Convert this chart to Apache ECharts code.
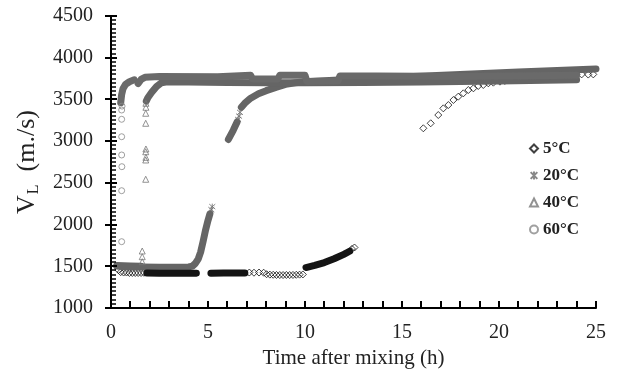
<!DOCTYPE html>
<html>
<head>
<meta charset="utf-8">
<title>Longitudinal velocity after mixing</title>
<script src="https://cdn.jsdelivr.net/npm/echarts@6/dist/echarts.min.js"></script>
<style>
  html, body { margin: 0; padding: 0; background: #fff; }
  #chart { width: 621px; height: 385px; }
</style>
</head>
<body>
<div id="chart"></div>
<script>
// Axis ranges and ticks
const xTicks = [0, 5, 10, 15, 20, 25];
const yTicks = [1000, 1500, 2000, 2500, 3000, 3500, 4000, 4500];
const xMinorStep = 1;
const yMinorStep = 50;
const legendNames = ['5°C', '20°C', '40°C', '60°C'];

// 5 °C: individually visible readings [hours, m/s]
const c5Points = [
  [0.38, 1455], [0.5, 1430], [0.65, 1425], [0.8, 1425], [0.95, 1420], [1.1, 1420],
  [1.25, 1420], [1.4, 1420], [1.55, 1420], [1.7, 1422],
  [7.13, 1425], [7.37, 1423], [7.63, 1425], [7.87, 1423],
  [8.02, 1405], [8.19, 1400], [8.36, 1398], [8.53, 1396], [8.7, 1395], [8.87, 1395],
  [9.04, 1396], [9.21, 1395], [9.38, 1396], [9.55, 1398], [9.72, 1400], [9.89, 1402],
  [12.42, 1708], [12.55, 1725],
  [16.1, 3154], [16.48, 3214], [16.87, 3313], [17.13, 3393], [17.39, 3433], [17.65, 3493],
  [17.9, 3533], [18.16, 3573], [18.42, 3613], [18.68, 3633], [18.93, 3661], [19.19, 3673],
  [19.45, 3693], [19.71, 3701], [20.05, 3713], [20.3, 3722], [20.6, 3730], [20.9, 3738],
  [21.2, 3745], [21.5, 3750], [21.8, 3757], [22.1, 3763], [22.4, 3768], [22.7, 3774],
  [23.0, 3779], [23.3, 3784], [23.6, 3788], [24.0, 3795], [24.26, 3800], [24.6, 3798], [24.86, 3800]
];
// 5 °C: densely sampled stretches
const c5Runs = [
  [[1.85, 1420], [2.5, 1417], [3.3, 1416], [4.0, 1416], [4.4, 1418]],
  [[5.15, 1418], [5.8, 1420], [6.4, 1420], [6.9, 1420]],
  [[10.05, 1485], [10.5, 1510], [11.0, 1545], [11.5, 1590], [12.0, 1643], [12.3, 1680]]
];

// 20 °C
const c20Points = [
  [5.17, 2180], [5.22, 2215], [6.55, 3260], [6.6, 3300], [6.65, 3345]
];
const c20Runs = [
  [[0.3, 1502], [0.8, 1492], [1.5, 1490], [2.5, 1488], [3.5, 1488], [4.0, 1492], [4.2, 1502],
   [4.35, 1535], [4.5, 1590], [4.62, 1670], [4.75, 1800], [4.88, 1940], [5.0, 2050], [5.1, 2130]],
  [[6.05, 3020], [6.3, 3130], [6.5, 3230]],
  [[6.72, 3405], [6.9, 3455], [7.2, 3515], [7.6, 3568], [8.0, 3605], [8.5, 3645], [9.0, 3680],
   [9.5, 3700], [10.0, 3712], [12.0, 3735], [15.0, 3770], [18.0, 3800], [21.0, 3830],
   [23.0, 3847], [25.0, 3866]]
];

// 40 °C
const c40Points = [
  [1.61, 1555], [1.61, 1615], [1.61, 1683],
  [1.79, 2543], [1.79, 2774], [1.8, 2806], [1.79, 2873], [1.8, 2906],
  [1.79, 3214], [1.79, 3334], [1.8, 3406], [1.8, 3454]
];
const c40Runs = [
  [[0.3, 1508], [1.0, 1502], [1.55, 1500]],
  [[1.82, 3480], [1.9, 3520], [2.1, 3585], [2.35, 3655], [2.6, 3700], [2.9, 3712], [4.0, 3708],
   [6.0, 3703], [8.0, 3700], [10.0, 3700], [13.0, 3703], [16.0, 3710], [20.0, 3722], [24.0, 3735]]
];

// 60 °C
const c60Points = [
  [0.55, 1795], [0.55, 2406], [0.56, 2694], [0.55, 2834], [0.55, 3053],
  [0.55, 3262], [0.55, 3373], [0.57, 3420]
];
const c60Runs = [
  [[0.5, 3460], [0.55, 3560], [0.62, 3630], [0.75, 3680], [0.95, 3712], [1.2, 3735]],
  [[1.4, 3690], [1.55, 3740], [1.75, 3765], [2.5, 3775], [5.5, 3772], [5.6, 3790], [7.2, 3790],
   [7.3, 3745], [8.6, 3745], [8.7, 3790], [10.0, 3790], [10.1, 3715], [11.7, 3720], [11.8, 3782],
   [13.7, 3782], [13.8, 3760], [18.0, 3775], [24.0, 3790]]
];

const SERIF = '"Liberation Serif", "Times New Roman", serif';
const TEXT = '#222';
const ASTERISK = 'path://M0,0L10,10M10,0L0,10M5,-1L5,11';

const X_MIN = xTicks[0], X_MAX = xTicks[xTicks.length - 1];
const Y_MIN = yTicks[0], Y_MAX = yTicks[yTicks.length - 1];

function markers(name, data, symbol, color, size, z) {
  return {
    name, type: 'scatter', data, symbol, symbolSize: size, z,
    itemStyle: { color: 'rgba(0,0,0,0)', borderColor: color, borderWidth: 1 },
    silent: true, animation: false
  };
}
function runs(name, list, color, width, z) {
  return list.map((d, i) => ({
    name: name + ' ' + (i + 1), type: 'line', data: d, showSymbol: false, symbol: 'none', z,
    lineStyle: { color, width, cap: 'round', join: 'round' },
    silent: true, animation: false
  }));
}

// Tick marks, placed through the axes' own scales
const xTickData = [];
for (let v = X_MIN; v <= X_MAX + 1e-9; v += xMinorStep) xTickData.push([v, Y_MIN]);
const yMajorData = yTicks.map(v => [X_MIN, v]);
const yMinorData = [];
for (let v = Y_MIN; v <= Y_MAX + 1e-9; v += yMinorStep) {
  if (!yTicks.includes(v)) yMinorData.push([X_MIN, v]);
}
function tickMarks(name, data, shapeAt) {
  return {
    name, type: 'custom', data, z: 10, silent: true, animation: false,
    encode: { x: 0, y: 1 },
    renderItem: function (params, api) {
      const p = api.coord([api.value(0), api.value(1)]);
      return { type: 'rect', shape: shapeAt(p), style: { fill: '#000' } };
    }
  };
}

const series = [].concat(
  [
    tickMarks('x ticks', xTickData, p => ({ x: Math.round(p[0]) - 1, y: p[1] - 7, width: 2, height: 7 })),
    tickMarks('y major ticks', yMajorData, p => ({ x: p[0] - 6, y: Math.round(p[1]) - 1, width: 12, height: 2 })),
    tickMarks('y minor ticks', yMinorData, p => ({ x: p[0], y: Math.round(p[1]) - 0.75, width: 5, height: 1.5 }))
  ],
  [markers('5°C', c5Points, 'diamond', '#111', 7, 1)],
  [markers('20°C', c20Points, ASTERISK, '#6c6c6c', 6, 4)],
  [markers('40°C', c40Points, 'triangle', '#777', 6, 4)],
  [markers('60°C', c60Points, 'circle', '#888', 6, 4)],
  runs('20°C band', c20Runs, '#656565', 7, 2),
  runs('40°C band', c40Runs, '#656565', 7, 2),
  runs('60°C band', c60Runs, '#6a6a6a', 7, 2),
  runs('5°C band', c5Runs, '#141414', 7, 3)
);

const plain = v => String(v);

const chart = echarts.init(document.getElementById('chart'));
chart.setOption({
  animation: false,
  grid: { left: 111, right: 25, top: 16, bottom: 77 },
  legend: {
    data: legendNames.map(n => ({ name: n })),
    orient: 'vertical', left: 524, top: 135,
    itemWidth: 8, itemHeight: 8, itemGap: 10,
    textStyle: { fontFamily: SERIF, fontWeight: 'bold', fontSize: 17, color: TEXT, lineHeight: 17 },
    selectedMode: false
  },
  xAxis: {
    type: 'value', min: X_MIN, max: X_MAX, interval: 5,
    name: 'Time after mixing (h)', nameLocation: 'middle', nameGap: 17,
    nameTextStyle: { fontFamily: SERIF, fontSize: 21, color: TEXT },
    axisLine: { show: true, lineStyle: { color: '#000', width: 2 } },
    axisTick: { show: false },
    axisLabel: { fontFamily: SERIF, fontSize: 20, color: TEXT, margin: 15, formatter: plain },
    splitLine: { show: false }
  },
  yAxis: {
    type: 'value', min: Y_MIN, max: Y_MAX, interval: 500,
    name: '{v|V}{s|L}{v|  (m./s)}', nameLocation: 'middle', nameGap: 67, nameRotate: 90,
    nameTextStyle: {
      fontFamily: SERIF, color: TEXT,
      rich: {
        v: { fontFamily: SERIF, fontSize: 26, color: TEXT },
        s: { fontFamily: SERIF, fontSize: 16, color: TEXT, padding: [13, 0, 0, 1] }
      }
    },
    axisLine: { show: true, lineStyle: { color: '#000', width: 2 } },
    axisTick: { show: false },
    axisLabel: { fontFamily: SERIF, fontSize: 20, color: TEXT, margin: 18, formatter: plain },
    splitLine: { show: false }
  },
  series
});
</script>
</body>
</html>
